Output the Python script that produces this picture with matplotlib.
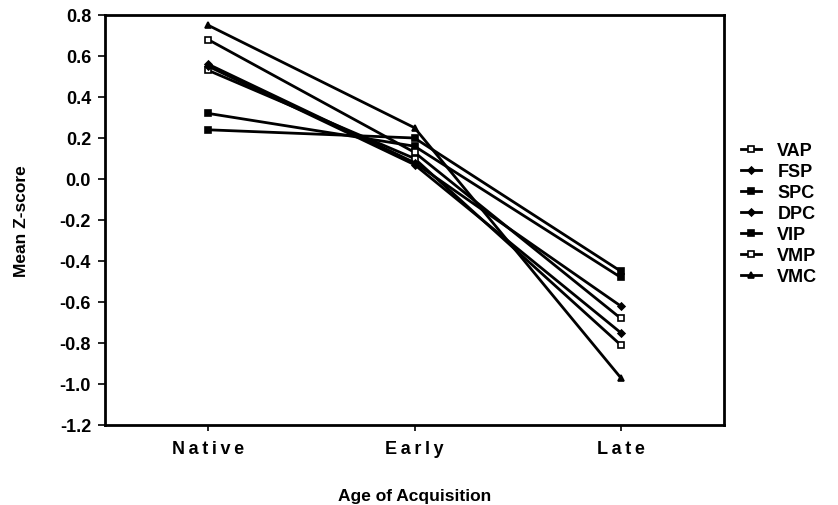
import matplotlib
matplotlib.use("Agg")
import matplotlib.pyplot as plt

categories = ["Native", "Early", "Late"]
series_names = ["VAP", "FSP", "SPC", "DPC", "VIP", "VMP", "VMC"]
VAP = [0.53, 0.10, -0.81]
FSP = [0.56, 0.08, -0.62]
SPC = [0.32, 0.16, -0.48]
DPC = [0.55, 0.07, -0.75]
VIP = [0.24, 0.20, -0.45]
VMP = [0.68, 0.13, -0.68]
VMC = [0.75, 0.25, -0.97]
yticks = [0.8, 0.6, 0.4, 0.2, 0.0, -0.2, -0.4, -0.6, -0.8, -1.0, -1.2]

series = [VAP, FSP, SPC, DPC, VIP, VMP, VMC]
markers = ["s", "D", "s", "D", "s", "s", "^"]
faces = ["white", "black", "black", "black", "black", "white", "black"]
sizes = [4.5, 3.5, 4.5, 3.5, 4.5, 4.5, 5]

plt.rcParams['font.family'] = ['Liberation Sans', 'DejaVu Sans']
plt.rcParams['font.weight'] = 'bold'

fig = plt.figure(figsize=(8.38, 5.06), dpi=100)
ax = fig.add_axes([105/838, 1-426/506, (724-105)/838, (426-16)/506])

x = list(range(len(categories)))
for name, vals, m, fc, ms in zip(series_names, series, markers, faces, sizes):
    ax.plot(x, vals, color="black", lw=2.0, marker=m, markersize=ms,
            markerfacecolor=fc, markeredgecolor="black", markeredgewidth=1.2,
            label=name)

ax.set_xlim(-0.5, 2.5)
ax.set_ylim(-1.2, 0.8)
ax.set_yticks(yticks)
ax.set_yticklabels([f"{v:.1f}" for v in yticks], fontsize=13, fontweight='bold')
ax.set_xticks(x)
spaced = ["\u2009".join(c) for c in categories]
ax.set_xticklabels(spaced, fontsize=13, fontweight='bold')
ax.tick_params(axis='y', direction='out', length=5, width=1.2, pad=5)
ax.tick_params(axis='x', direction='out', length=4, width=1.2, pad=7)
for s in ax.spines.values():
    s.set_linewidth(2.0)

ax.set_ylabel("Mean Z-score", fontsize=12.5, fontweight='bold', labelpad=22)
ax.set_xlabel("Age of Acquisition", fontsize=12.5, fontweight='bold', labelpad=22)

leg = fig.legend(loc='upper left', bbox_to_anchor=(734/838, 1-136/506),
                 frameon=False, fontsize=13, handlelength=1.1,
                 labelspacing=0.22, handletextpad=0.9, borderaxespad=0)
for t in leg.get_texts():
    t.set_fontweight('bold')

fig.savefig("out.png", dpi=100)
